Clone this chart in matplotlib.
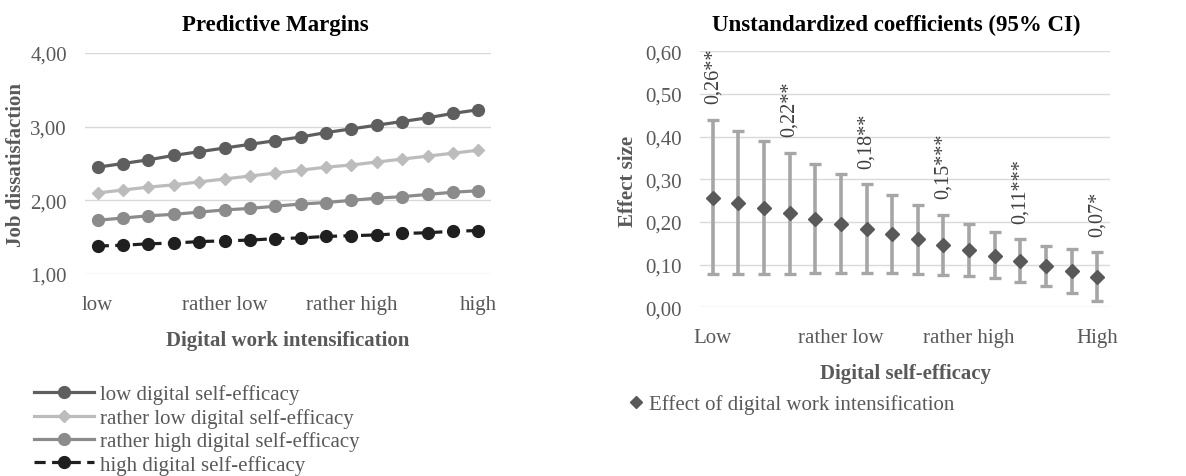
import matplotlib
matplotlib.use("Agg")
import matplotlib.pyplot as plt
from matplotlib.lines import Line2D
from matplotlib.ticker import FuncFormatter

plt.rcParams['font.family'] = ['Liberation Serif', 'DejaVu Serif']

# ---------------- data ----------------
x_labels_left = ["low", "rather low", "rather high", "high"]
x_label_pos = [0, 5, 10, 15]

low_se = [2.45, 2.50, 2.55, 2.61, 2.66, 2.71, 2.76, 2.81, 2.86, 2.92, 2.97, 3.02, 3.07, 3.12, 3.18, 3.23]
rather_low_se = [2.10, 2.14, 2.18, 2.21, 2.25, 2.29, 2.33, 2.37, 2.41, 2.45, 2.48, 2.52, 2.56, 2.60, 2.64, 2.68]
rather_high_se = [1.73, 1.76, 1.79, 1.81, 1.84, 1.87, 1.89, 1.92, 1.95, 1.97, 2.00, 2.03, 2.05, 2.08, 2.11, 2.13]
high_se = [1.38, 1.39, 1.41, 1.42, 1.44, 1.45, 1.46, 1.48, 1.49, 1.51, 1.52, 1.53, 1.55, 1.56, 1.58, 1.59]
series_names = ["low digital self-efficacy", "rather low digital self-efficacy",
                "rather high digital self-efficacy", "high digital self-efficacy"]

x_labels_right = ["Low", "rather low", "rather high", "High"]
effect = [0.256, 0.245, 0.233, 0.221, 0.208, 0.196, 0.184, 0.171, 0.159, 0.146, 0.134, 0.121, 0.109, 0.096, 0.084, 0.071]
ci_upper = [0.439, 0.414, 0.389, 0.362, 0.337, 0.313, 0.288, 0.263, 0.239, 0.217, 0.195, 0.176, 0.159, 0.144, 0.136, 0.129]
ci_lower = [0.078, 0.078, 0.078, 0.079, 0.080, 0.080, 0.080, 0.080, 0.078, 0.076, 0.073, 0.068, 0.060, 0.049, 0.034, 0.014]
annot_idx = [0, 3, 6, 9, 12, 15]
annot_text = ["0,26**", "0,22**", "0,18**", "0,15***", "0,11***", "0,07*"]

# ---------------- figure ----------------
W, H = 1186, 477
fig = plt.figure(figsize=(W / 100, H / 100), dpi=100)

def ax_rect(x0, y0, x1, y1):
    return [x0 / W, 1 - y1 / H, (x1 - x0) / W, (y1 - y0) / H]

TXT = "#595959"
GRID = "#d9d9d9"
comma_fmt = FuncFormatter(lambda v, p: f"{v:.2f}".replace(".", ","))

# ---- left chart ----
ax1 = fig.add_axes(ax_rect(85, 54, 491, 275))
xs = list(range(len(low_se)))
styles = [
    dict(color="#5e5e5e", marker="o", ms=8.5, ls="-"),
    dict(color="#bcbcbc", marker="D", ms=5.8, ls="-"),
    dict(color="#8b8b8b", marker="o", ms=8.5, ls="-"),
    dict(color="#1f1f1f", marker="o", ms=8.5, ls=(0, (3.5, 2))),
]
handles = []
for ys, st, name in zip([low_se, rather_low_se, rather_high_se, high_se], styles, series_names):
    ax1.plot(xs, ys, color=st["color"], marker=st["marker"], markersize=st["ms"],
             linestyle=st["ls"], lw=2.3, zorder=3)
    handles.append(Line2D([], [], color=st["color"], marker=st["marker"], markersize=st["ms"],
                          linestyle=st["ls"], lw=2.3, label=name))
ax1.set_xlim(-0.5, len(xs) - 0.5)
ax1.set_ylim(1.0, 4.0)
ax1.set_yticks([1, 2, 3, 4])
ax1.yaxis.set_major_formatter(comma_fmt)
ax1.set_xticks(x_label_pos)
ax1.set_xticklabels(x_labels_left)
ax1.grid(axis="y", color=GRID, lw=1.0)
ax1.set_axisbelow(True)
for s in ax1.spines.values():
    s.set_visible(False)
ax1.tick_params(length=0, labelsize=15, labelcolor=TXT)
ax1.tick_params(axis="x", pad=15)
ax1.tick_params(axis="y", pad=13)

fig.text(275 / W, 1 - 25 / H, "Predictive Margins", ha="center", va="center",
         fontsize=16.5, fontweight="bold", color="black")
fig.text(288 / W, 1 - 341 / H, "Digital work intensification", ha="center", va="center",
         fontsize=15, fontweight="bold", color=TXT)
fig.text(16 / W, 1 - 165 / H, "Job dissatisfaction", ha="center", va="center",
         rotation=90, fontsize=15, fontweight="bold", color=TXT)

fig.legend(handles=handles, loc="upper left", bbox_to_anchor=(34 / W, 1 - 385.5 / H),
           frameon=False, fontsize=15, labelcolor=TXT, handlelength=2.9, handletextpad=0.25,
           labelspacing=0.17, borderpad=0, borderaxespad=0, numpoints=1)

# ---- right chart ----
ax2 = fig.add_axes(ax_rect(700, 52.3, 1110, 308.3))
xs2 = list(range(len(effect)))
yerr = [[e - l for e, l in zip(effect, ci_lower)], [u - e for e, u in zip(effect, ci_upper)]]
ax2.errorbar(xs2, effect, yerr=yerr, fmt="none", ecolor="#a6a6a6", elinewidth=2.6,
             capsize=4.5, capthick=2.4, zorder=2)
ax2.plot(xs2, effect, linestyle="none", marker="D", markersize=7.3, color="#595959", zorder=3)
for i, t in zip(annot_idx, annot_text):
    ax2.annotate(t, (xs2[i], ci_upper[i]), xytext=(0, 12), textcoords="offset points",
                 ha="center", va="bottom", rotation=90, fontsize=14.5, color="#404040")
ax2.set_xlim(-0.5, len(xs2) - 0.5)
ax2.set_ylim(0, 0.6)
ax2.set_yticks([0, 0.1, 0.2, 0.3, 0.4, 0.5, 0.6])
ax2.yaxis.set_major_formatter(comma_fmt)
ax2.set_xticks(x_label_pos)
ax2.set_xticklabels(x_labels_right)
ax2.grid(axis="y", color=GRID, lw=1.0)
ax2.set_axisbelow(True)
for s in ax2.spines.values():
    s.set_visible(False)
ax2.tick_params(length=0, labelsize=15, labelcolor=TXT)
ax2.tick_params(axis="x", pad=15)
ax2.tick_params(axis="y", pad=13)

fig.text(896 / W, 1 - 25 / H, "Unstandardized coefficients (95% CI)", ha="center", va="center",
         fontsize=16.5, fontweight="bold", color="black")
fig.text(905 / W, 1 - 374 / H, "Digital self-efficacy", ha="center", va="center",
         fontsize=15, fontweight="bold", color=TXT)
fig.text(628 / W, 1 - 181 / H, "Effect size", ha="center", va="center",
         rotation=90, fontsize=15, fontweight="bold", color=TXT)

h2 = Line2D([], [], linestyle="none", marker="D", markersize=6, color="#595959",
            label="Effect of digital work intensification")
fig.legend(handles=[h2], loc="upper left", bbox_to_anchor=(628 / W, 1 - 395 / H),
           frameon=False, fontsize=15, labelcolor=TXT, handlelength=0.8, handletextpad=0.2,
           borderpad=0, borderaxespad=0, numpoints=1)

fig.savefig("out.png", dpi=100)
